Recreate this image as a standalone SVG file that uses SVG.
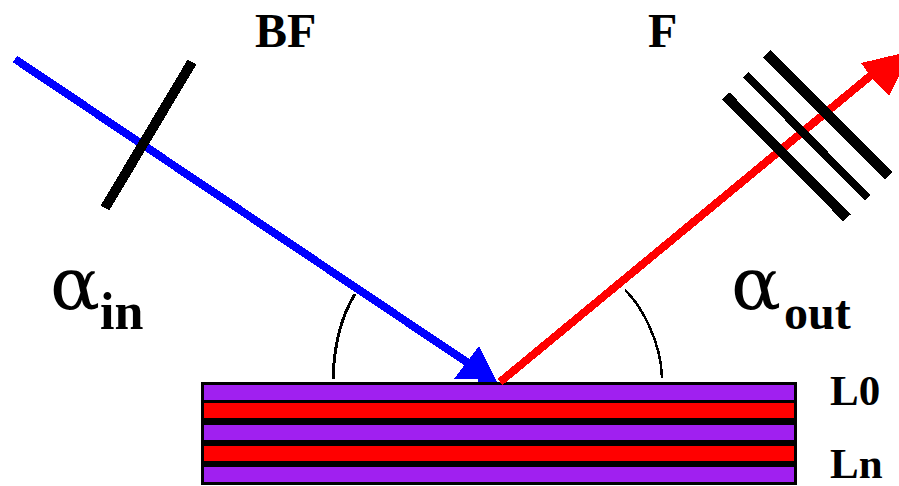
<svg xmlns="http://www.w3.org/2000/svg" width="899" height="486" viewBox="0 0 899 486">
<style>
.t{font-family:"Liberation Serif","Times New Roman",serif;font-weight:bold;font-size:48px;fill:#000}
.s{font-size:43px}
.a{font-family:"DejaVu Serif","Liberation Serif",serif;font-size:73px;fill:#000}
.b{stroke:#000;fill:none;shape-rendering:crispEdges}
.p{fill:#a020f0}
.r{fill:#f00}
.x{shape-rendering:crispEdges}
</style>
<rect width="899" height="486" fill="#fff"/>
<g id="layer-stack" class="x">
<rect x="201" y="382" width="596" height="103" fill="#000"/>
<rect class="p" x="204" y="385" width="590" height="15"/>
<rect class="r" x="204" y="403" width="590" height="15"/>
<rect class="p" x="204" y="425" width="590" height="15"/>
<rect class="r" x="204" y="446" width="590" height="15"/>
<rect class="p" x="204" y="467" width="590" height="15"/>
</g>
<g id="connectors" class="x">
<path d="M15 59L480 371" stroke="#00f" stroke-width="8" fill="none"/>
<polygon points="479,346 454,379 478,379 478,382 497,382" fill="#00f"/>
<path d="M500 382L875 72" stroke="#f00" stroke-width="8" fill="none"/>
<polygon points="861,63 899,54 899,76 889,96 872,78" fill="#f00"/>
<path class="b" d="M333 379C334 345 342 315 355 294" stroke-width="3"/>
<path class="b" d="M625 290C640 304 661 340 662 378" stroke-width="2.5"/>
</g>
<g id="filter-bf"><path class="b" d="M192 62L105 208" stroke-width="10"/></g>
<g id="filter-f">
<path class="b" d="M726 96L847 218" stroke-width="10"/>
<path class="b" d="M746 75L868 198" stroke-width="8"/>
<path class="b" d="M767 54L889 176" stroke-width="10"/>
</g>
<g id="label-bf"><text class="t" x="255" y="47">BF</text></g>
<g id="label-f"><text class="t" x="648" y="47">F</text></g>
<g id="label-alpha-in"><text class="a" x="50" y="309" textLength="50" lengthAdjust="spacingAndGlyphs">α</text><text class="t" x="100" y="329" style="font-size:52px">in</text></g>
<g id="label-alpha-out"><text class="a" x="731" y="309" textLength="50" lengthAdjust="spacingAndGlyphs">α</text><text class="t" x="784" y="329">out</text></g>
<g id="label-l0"><text class="t s" x="830" y="405">L0</text></g>
<g id="label-ln"><text class="t s" x="830" y="478">Ln</text></g>
</svg>
